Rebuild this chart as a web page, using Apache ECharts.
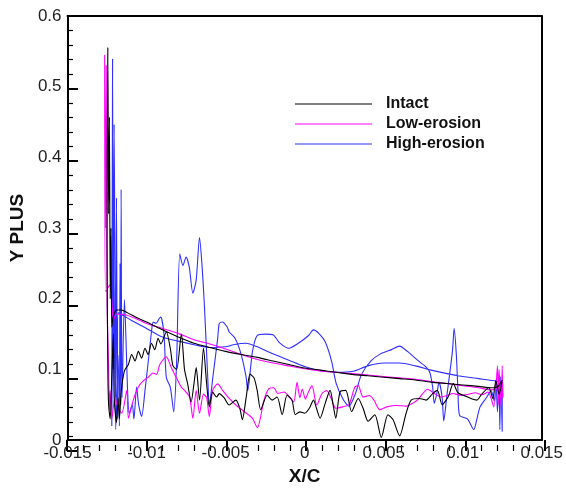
<!DOCTYPE html>
<html>
<head>
<meta charset="utf-8">
<title>Y PLUS vs X/C</title>
<script src="https://cdn.jsdelivr.net/npm/echarts@6/dist/echarts.min.js"></script>
<style>
  html, body { margin: 0; padding: 0; background: #fff; }
  #chart { width: 566px; height: 491px; }
</style>
</head>
<body>
<div id="chart"></div>
<script>
// Axis ticks
const xTicks = [-0.015, -0.01, -0.005, 0, 0.005, 0.01, 0.015];
const yTicks = [0, 0.1, 0.2, 0.3, 0.4, 0.5, 0.6];

const seriesNames = ['Intact', 'Low-erosion', 'High-erosion'];

// Intact surface: smooth side (trailing edge -> leading edge)
const intactSmooth = [
  [0.0125, 0.085], [0.0122, 0.075], [0.0118, 0.074], [0.011, 0.076], [0.010, 0.078],
  [0.009, 0.080], [0.008, 0.082], [0.007, 0.085], [0.006, 0.087], [0.005, 0.089],
  [0.004, 0.091], [0.003, 0.093], [0.002, 0.096], [0.001, 0.099], [0.0, 0.102],
  [-0.001, 0.107], [-0.002, 0.112], [-0.003, 0.117], [-0.004, 0.121], [-0.005, 0.1255],
  [-0.006, 0.131], [-0.007, 0.137], [-0.008, 0.146], [-0.009, 0.156], [-0.0098, 0.165],
  [-0.0105, 0.172], [-0.0112, 0.180], [-0.0116, 0.184], [-0.0119, 0.184], [-0.0121, 0.175]
];
// Intact: leading-edge peaks and wavy side (leading edge -> trailing edge)
const intactWavy = [
  [-0.0122, 0.16], [-0.01225, 0.30], [-0.0123, 0.20], [-0.01235, 0.457], [-0.0124, 0.32],
  [-0.01245, 0.555], [-0.0125, 0.28], [-0.01245, 0.10], [-0.0124, 0.05], [-0.0123, 0.03],
  [-0.0122, 0.09], [-0.0121, 0.15], [-0.01205, 0.06], [-0.0119, 0.025], [-0.0118, 0.06],
  [-0.01172, 0.03], [-0.0116, 0.07], [-0.0114, 0.098], [-0.01115, 0.107], [-0.01094, 0.121],
  [-0.01073, 0.112], [-0.01052, 0.1255], [-0.01031, 0.116], [-0.0101, 0.130], [-0.0099, 0.121],
  [-0.00969, 0.137], [-0.00948, 0.128], [-0.00927, 0.144], [-0.0091, 0.136], [-0.00875, 0.153],
  [-0.0085, 0.13], [-0.00833, 0.105], [-0.0081, 0.10], [-0.0078, 0.15], [-0.0076, 0.10],
  [-0.0074, 0.0795], [-0.00718, 0.054], [-0.007, 0.08], [-0.00686, 0.1025], [-0.00665, 0.0566],
  [-0.0064, 0.13], [-0.0062, 0.08], [-0.00603, 0.047], [-0.00582, 0.068], [-0.00557, 0.061],
  [-0.0054, 0.0658], [-0.0051, 0.06], [-0.00477, 0.0497], [-0.00435, 0.0566], [-0.0041, 0.045],
  [-0.00394, 0.029], [-0.0037, 0.06], [-0.00345, 0.0934], [-0.0032, 0.088], [-0.003, 0.07],
  [-0.00278, 0.043], [-0.00237, 0.0634], [-0.00205, 0.0566], [-0.00174, 0.061], [-0.00142, 0.036],
  [-0.00111, 0.0634], [-0.0008, 0.0566], [-0.00059, 0.036], [-0.0003, 0.04], [0.0, 0.038],
  [0.0003, 0.045], [0.00056, 0.0566], [0.00075, 0.045], [0.00098, 0.031], [0.0013, 0.052],
  [0.00161, 0.0703], [0.0018, 0.05], [0.00197, 0.031], [0.00224, 0.068], [0.0026, 0.0703],
  [0.00297, 0.0404], [0.00339, 0.0589], [0.0037, 0.045], [0.00402, 0.0266], [0.00444, 0.0359],
  [0.00485, 0.0037], [0.00527, 0.0359], [0.00559, 0.029], [0.00601, 0.006], [0.00642, 0.038],
  [0.00674, 0.0566], [0.00726, 0.0589], [0.00768, 0.0566], [0.0081, 0.0658], [0.0084, 0.0703],
  [0.0087, 0.05], [0.0091, 0.062], [0.0094, 0.08], [0.0097, 0.067], [0.0102, 0.062],
  [0.0106, 0.058], [0.0109, 0.0566], [0.0112, 0.065], [0.01165, 0.074], [0.0119, 0.059],
  [0.0121, 0.084], [0.0123, 0.065], [0.0125, 0.085]
];

// Low-erosion surface
const lowSmooth = [
  [0.0125, 0.075], [0.0118, 0.071], [0.011, 0.074], [0.010, 0.077], [0.009, 0.080],
  [0.008, 0.083], [0.007, 0.086], [0.006, 0.088], [0.005, 0.090], [0.004, 0.092],
  [0.003, 0.094], [0.002, 0.096], [0.001, 0.098], [0.0, 0.101], [-0.001, 0.105],
  [-0.002, 0.109], [-0.003, 0.114], [-0.004, 0.121], [-0.005, 0.129], [-0.006, 0.136],
  [-0.007, 0.142], [-0.008, 0.151], [-0.009, 0.158], [-0.010, 0.165], [-0.0108, 0.173],
  [-0.0115, 0.178], [-0.0119, 0.178], [-0.0121, 0.17]
];
const lowWavy = [
  [-0.0123, 0.22], [-0.0126, 0.21], [-0.01265, 0.545], [-0.0126, 0.30], [-0.01255, 0.53],
  [-0.0125, 0.20], [-0.0124, 0.10], [-0.01235, 0.043], [-0.0123, 0.07], [-0.0122, 0.03],
  [-0.012, 0.06], [-0.0118, 0.045], [-0.01157, 0.038], [-0.01125, 0.07], [-0.01115, 0.031],
  [-0.01084, 0.0566], [-0.01052, 0.075], [-0.0102, 0.084], [-0.0099, 0.0887], [-0.0096, 0.095],
  [-0.00937, 0.093], [-0.00916, 0.107], [-0.00875, 0.118], [-0.00843, 0.1025], [-0.00812, 0.0887],
  [-0.0078, 0.075], [-0.0076, 0.0703], [-0.00728, 0.061], [-0.00707, 0.031], [-0.00686, 0.0703],
  [-0.00665, 0.038], [-0.0064, 0.065], [-0.0062, 0.06], [-0.00603, 0.0335], [-0.00582, 0.0703],
  [-0.0055, 0.0795], [-0.00519, 0.0703], [-0.00477, 0.0589], [-0.00435, 0.0497], [-0.00383, 0.0404],
  [-0.00331, 0.031], [-0.00299, 0.0175], [-0.00257, 0.0566], [-0.00226, 0.0727], [-0.00195, 0.074],
  [-0.0017, 0.066], [-0.0013, 0.068], [-0.001, 0.062], [-0.00069, 0.054], [-0.00048, 0.0818],
  [-0.0003, 0.06], [-0.00015, 0.072], [0.00005, 0.058], [0.0002, 0.066], [0.00046, 0.077],
  [0.00077, 0.0497], [0.0011, 0.066], [0.0014, 0.07], [0.0017, 0.058], [0.00197, 0.045],
  [0.0024, 0.047], [0.0028, 0.05], [0.00318, 0.075], [0.00339, 0.077], [0.0037, 0.061],
  [0.0041, 0.063], [0.0044, 0.056], [0.00475, 0.043], [0.0052, 0.047], [0.0058, 0.049],
  [0.0064, 0.048], [0.0069, 0.053], [0.0072, 0.058], [0.00747, 0.0658], [0.00778, 0.072],
  [0.0082, 0.066], [0.00862, 0.061], [0.009, 0.063], [0.0094, 0.066], [0.00987, 0.0634],
  [0.0104, 0.065], [0.0108, 0.067], [0.0112, 0.064], [0.0116, 0.068], [0.01197, 0.047],
  [0.0122, 0.105], [0.01225, 0.05], [0.0123, 0.10], [0.01245, 0.043], [0.0125, 0.105],
  [0.01255, 0.06], [0.0125, 0.075]
];

// High-erosion surface
const highSmooth = [
  [0.0125, 0.082], [0.012, 0.084], [0.011, 0.087], [0.010, 0.090], [0.009, 0.094],
  [0.008, 0.099], [0.007, 0.105], [0.006, 0.109], [0.005, 0.109], [0.004, 0.105],
  [0.003, 0.097], [0.002, 0.096], [0.001, 0.098], [0.0, 0.104], [-0.001, 0.113],
  [-0.002, 0.122], [-0.003, 0.132], [-0.0037, 0.137], [-0.0045, 0.135], [-0.005, 0.132],
  [-0.006, 0.131], [-0.007, 0.135], [-0.008, 0.14], [-0.009, 0.146], [-0.010, 0.158],
  [-0.011, 0.170], [-0.0116, 0.178], [-0.0118, 0.18]
];
const highWavy = [
  [-0.01185, 0.03], [-0.0119, 0.3425], [-0.01195, 0.06], [-0.01205, 0.4465], [-0.0121, 0.10],
  [-0.01215, 0.539], [-0.0122, 0.02], [-0.0121, 0.25], [-0.01195, 0.015], [-0.0118, 0.12],
  [-0.01172, 0.02], [-0.01168, 0.25], [-0.01163, 0.05], [-0.01161, 0.3545], [-0.01155, 0.06],
  [-0.0114, 0.199], [-0.0112, 0.07], [-0.0111, 0.038], [-0.0109, 0.05], [-0.0108, 0.03],
  [-0.01063, 0.075], [-0.0105, 0.05], [-0.01031, 0.0335], [-0.0101, 0.07], [-0.00985, 0.12],
  [-0.00969, 0.153], [-0.00958, 0.167], [-0.0094, 0.165], [-0.0092, 0.172], [-0.0091, 0.174],
  [-0.0089, 0.15], [-0.00875, 0.0887], [-0.0085, 0.075], [-0.00828, 0.04], [-0.0081, 0.11],
  [-0.0079, 0.2634], [-0.0077, 0.247], [-0.0075, 0.259], [-0.0073, 0.245], [-0.00707, 0.208],
  [-0.00686, 0.2266], [-0.00665, 0.2865], [-0.0065, 0.25], [-0.00634, 0.19], [-0.00613, 0.0887],
  [-0.00603, 0.0497], [-0.0058, 0.09], [-0.0055, 0.144], [-0.0054, 0.165], [-0.0052, 0.167],
  [-0.0049, 0.16], [-0.00477, 0.153], [-0.0044, 0.144], [-0.004, 0.12], [-0.0037, 0.0887],
  [-0.0036, 0.07], [-0.0033, 0.1255], [-0.003, 0.148], [-0.0025, 0.150], [-0.002, 0.149],
  [-0.0016, 0.138], [-0.001, 0.130], [-0.0004, 0.137], [0.00025, 0.148], [0.00056, 0.156],
  [0.0009, 0.151], [0.0013, 0.139], [0.0017, 0.112], [0.002, 0.08], [0.00245, 0.057],
  [0.0028, 0.048], [0.0032, 0.065], [0.0036, 0.093], [0.0042, 0.112], [0.0048, 0.122],
  [0.0055, 0.128], [0.006, 0.133], [0.0065, 0.1255], [0.0072, 0.112], [0.0076, 0.105],
  [0.0079, 0.097], [0.0081, 0.075], [0.0082, 0.052], [0.0084, 0.07], [0.0085, 0.082],
  [0.0087, 0.06], [0.0088, 0.027], [0.009, 0.063], [0.00935, 0.1255], [0.00946, 0.158],
  [0.0096, 0.12], [0.0097, 0.07], [0.0098, 0.035], [0.0103, 0.03], [0.0107, 0.015],
  [0.0109, 0.03], [0.0111, 0.047], [0.0115, 0.06], [0.0118, 0.07], [0.012, 0.055],
  [0.0121, 0.085], [0.0122, 0.04], [0.0123, 0.088], [0.01235, 0.015], [0.0124, 0.09],
  [0.0125, 0.012], [0.0125, 0.082]
];

const seriesColors = ['#000000', '#ff00ff', '#2f2fff'];
const surfaces = [
  intactSmooth.concat(intactWavy),
  lowSmooth.concat(lowWavy),
  highSmooth.concat(highWavy)
];

const FONT = '"Liberation Sans", Arial, Helvetica, sans-serif';
const fmt = v => String(+(+v).toFixed(3));
const frameLine = { show: true, onZero: false, lineStyle: { color: '#000', width: 2 } };
const hiddenAxis = (gridIndex, extra) => Object.assign({
  type: 'value', gridIndex, show: false, min: 0, max: 1
}, extra);

// Tick strips: thin grids lying just outside the plot, whose outward ticks point into it
const majorTick = { show: true, inside: false, length: 11, lineStyle: { color: '#000', width: 2 } };
const minorTick = { show: true, splitNumber: 5, length: 6, lineStyle: { color: '#000', width: 1.2 } };

const chart = echarts.init(document.getElementById('chart'), null, { renderer: 'canvas' });

chart.setOption({
  animation: false,
  backgroundColor: '#ffffff',
  grid: [
    { left: 67, right: 21, top: 16, bottom: 40, show: false },   // plot
    { left: 67, right: 21, top: 451, height: 1, show: false },   // strip under the X axis
    { left: 66, width: 1, top: 16, bottom: 40, show: false }     // strip left of the Y axis
  ],
  legend: {
    show: true,
    data: seriesNames,
    orient: 'vertical',
    left: 290,
    top: 91,
    itemWidth: 77,
    itemHeight: 1.2,
    itemGap: 4,
    icon: 'rect',
    textStyle: {
      fontFamily: FONT, fontSize: 16, fontWeight: 'bold', color: '#111',
      padding: [0, 0, 0, 9]
    }
  },
  xAxis: [{
    type: 'value',
    gridIndex: 0,
    min: xTicks[0],
    max: xTicks[xTicks.length - 1],
    interval: 0.005,
    name: 'X/C',
    nameLocation: 'middle',
    nameGap: 22,
    nameTextStyle: { fontFamily: FONT, fontSize: 19, fontWeight: 'bold', color: '#111' },
    axisLine: frameLine,
    axisTick: { show: false },
    minorTick: { show: false },
    splitLine: { show: false },
    minorSplitLine: { show: false },
    axisLabel: { show: true, margin: 5, fontFamily: FONT, fontSize: 17, color: '#222', formatter: fmt }
  }, {
    // top edge of the frame
    type: 'value', gridIndex: 0, position: 'top',
    min: xTicks[0], max: xTicks[xTicks.length - 1], interval: 0.005,
    axisLine: frameLine,
    axisTick: { show: false }, minorTick: { show: false },
    axisLabel: { show: false }, splitLine: { show: false }
  }, {
    // X ticks, pointing up into the plot
    type: 'value', gridIndex: 1, position: 'top',
    min: xTicks[0], max: xTicks[xTicks.length - 1], interval: 0.005,
    axisLine: { show: false, onZero: false },
    axisTick: majorTick, minorTick: minorTick,
    axisLabel: { show: false }, splitLine: { show: false }, minorSplitLine: { show: false }
  },
    hiddenAxis(2)
  ],
  yAxis: [{
    type: 'value',
    gridIndex: 0,
    min: yTicks[0],
    max: yTicks[yTicks.length - 1],
    interval: 0.1,
    name: 'Y PLUS',
    nameLocation: 'middle',
    nameGap: 30,
    nameTextStyle: { fontFamily: FONT, fontSize: 19, fontWeight: 'bold', color: '#111' },
    axisLine: frameLine,
    axisTick: { show: false },
    minorTick: { show: false },
    splitLine: { show: false },
    minorSplitLine: { show: false },
    axisLabel: { show: true, margin: 6, fontFamily: FONT, fontSize: 17, color: '#222', formatter: fmt }
  }, {
    // right edge of the frame
    type: 'value', gridIndex: 0, position: 'right',
    min: yTicks[0], max: yTicks[yTicks.length - 1], interval: 0.1,
    axisLine: frameLine,
    axisTick: { show: false }, minorTick: { show: false },
    axisLabel: { show: false }, splitLine: { show: false }
  },
    hiddenAxis(1),
  {
    // Y ticks, pointing right into the plot
    type: 'value', gridIndex: 2, position: 'right',
    min: yTicks[0], max: yTicks[yTicks.length - 1], interval: 0.1,
    axisLine: { show: false, onZero: false },
    axisTick: majorTick, minorTick: minorTick,
    axisLabel: { show: false }, splitLine: { show: false }, minorSplitLine: { show: false }
  }],
  series: seriesNames.map((name, i) => ({
    name,
    type: 'line',
    xAxisIndex: 0,
    yAxisIndex: 0,
    data: surfaces[i],
    symbol: 'none',
    showSymbol: false,
    smooth: 0.25,
    clip: true,
    lineStyle: { color: seriesColors[i], width: 1.1 },
    itemStyle: { color: seriesColors[i] },
    z: 3 - i
  }))
});
</script>
</body>
</html>
